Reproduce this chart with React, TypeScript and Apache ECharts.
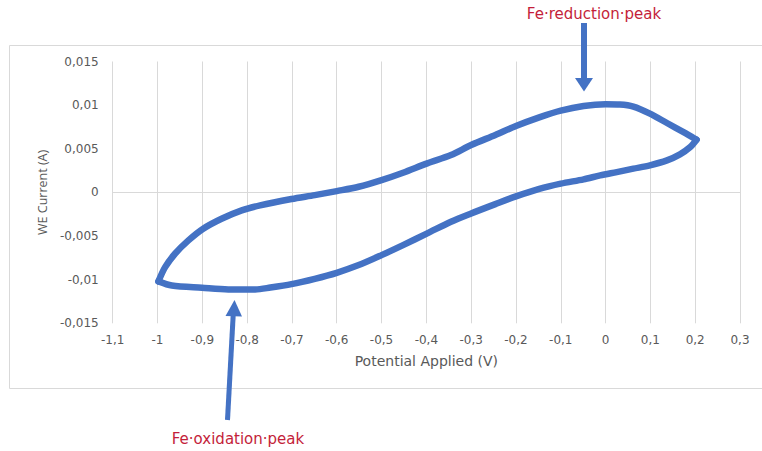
import React, { useEffect, useRef } from "react";
import * as echarts from "echarts";

// Cyclic voltammogram: anodic sweep (-1.0 V -> 0.2 V) and cathodic return (0.2 V -> -1.0 V)
const forwardPotential = [-0.998, -0.983, -0.961, -0.931, -0.898, -0.857, -0.812, -0.771, -0.701, -0.649, -0.6, -0.551, -0.5, -0.452, -0.398, -0.345, -0.3, -0.246, -0.2, -0.148, -0.1, -0.049, 0.0, 0.032, 0.062, 0.099, 0.137, 0.174, 0.203];
const forwardCurrent = [-0.0102, -0.00857, -0.00703, -0.0055, -0.00416, -0.00302, -0.00206, -0.00149, -0.00076, -0.00031, 0.00015, 0.00065, 0.00141, 0.00226, 0.00333, 0.00428, 0.00543, 0.00658, 0.00761, 0.0086, 0.00937, 0.0099, 0.0101, 0.01007, 0.00984, 0.00903, 0.00795, 0.0069, 0.00604];
const reversePotential = [0.203, 0.189, 0.166, 0.137, 0.099, 0.062, 0.025, -0.012, -0.049, -0.1, -0.148, -0.2, -0.246, -0.3, -0.345, -0.398, -0.452, -0.5, -0.551, -0.6, -0.649, -0.701, -0.748, -0.782, -0.842, -0.901, -0.968, -0.998];
const reverseCurrent = [0.00604, 0.0052, 0.00436, 0.00367, 0.0031, 0.00272, 0.00233, 0.00195, 0.0015, 0.001, 0.0004, -0.00046, -0.00134, -0.00241, -0.00336, -0.0047, -0.00604, -0.00719, -0.00833, -0.00921, -0.0099, -0.01051, -0.0109, -0.01112, -0.01112, -0.01093, -0.01067, -0.0102];

// Axis settings
const potentialMin = -1.1;
const potentialMax = 0.3;
const potentialStep = 0.1;
const currentMin = -0.015;
const currentMax = 0.015;
const currentStep = 0.005;

const xTitle = "Potential Applied (V)";
const yTitle = "WE Current (A)";
const reductionNote = "Fe·reduction·peak";
const oxidationNote = "Fe·oxidation·peak";

const WIDE_FONT = "'DejaVu Sans', 'Open Sans', sans-serif";
const FONT = "'Open Sans', 'Liberation Sans', sans-serif";
const GRID_COLOR = "#d9d9d9";
const TEXT_COLOR = "#595959";
const LINE_COLOR = "#4472C4";
const NOTE_COLOR = "#C41E3A";

const commaNumber = (v: number, digits: number) =>
  String(+v.toFixed(digits)).replace(".", ",");

const zip = (xs: number[], ys: number[]) => xs.map((x, i) => [x, ys[i]]);

const sweepStyle = {
  type: "line",
  xAxisIndex: 0,
  showSymbol: false,
  smooth: 0.3,
  lineStyle: { color: LINE_COLOR, width: 6.5, cap: "round", join: "round" },
  itemStyle: { color: LINE_COLOR },
  silent: true,
  z: 5,
};

export default function App() {
  const ref = useRef<HTMLDivElement>(null);

  useEffect(() => {
    if (!ref.current) return;
    const chart = echarts.init(ref.current, undefined, { renderer: "svg" });

    chart.setOption({
      animation: false,
      backgroundColor: "#ffffff",
      textStyle: { fontFamily: FONT },
      grid: { left: 112.7, right: 22, top: 61.5, bottom: 127.7, containLabel: false },
      xAxis: [
        {
          type: "value",
          min: potentialMin,
          max: potentialMax,
          interval: potentialStep,
          axisLine: { show: false, onZero: false },
          axisTick: { show: false },
          splitLine: { show: true, lineStyle: { color: GRID_COLOR, width: 1 } },
          axisLabel: {
            color: TEXT_COLOR,
            fontSize: 12,
            fontFamily: WIDE_FONT,
            margin: 11,
            formatter: (v: number) => commaNumber(v, 1),
          },
          name: xTitle,
          nameLocation: "middle",
          nameGap: 31,
          nameTextStyle: { color: TEXT_COLOR, fontSize: 14, fontFamily: WIDE_FONT },
        },
        {
          type: "value",
          min: potentialMin,
          max: potentialMax,
          interval: potentialStep,
          position: "bottom",
          axisLine: { show: true, onZero: true, lineStyle: { color: GRID_COLOR, width: 1 } },
          axisTick: { show: false },
          axisLabel: { show: false },
          splitLine: { show: false },
        },
      ],
      yAxis: {
        type: "value",
        min: currentMin,
        max: currentMax,
        interval: currentStep,
        axisLine: { show: false },
        axisTick: { show: false },
        splitLine: { show: false },
        axisLabel: {
          color: TEXT_COLOR,
          fontSize: 12,
          fontFamily: WIDE_FONT,
          margin: 14,
          formatter: (v: number) => commaNumber(v, 3),
        },
        name: yTitle,
        nameLocation: "middle",
        nameGap: 62,
        nameRotate: 90,
        nameTextStyle: { color: TEXT_COLOR, fontSize: 12.5, fontFamily: FONT },
      },
      series: [
        { ...sweepStyle, name: "anodic", data: zip(forwardPotential, forwardCurrent) },
        { ...sweepStyle, name: "cathodic", data: zip(reversePotential, reverseCurrent) },
      ],
      graphic: [
        {
          type: "rect",
          shape: { x: 9.5, y: 45.5, width: 760, height: 343 },
          style: { fill: "none", stroke: GRID_COLOR, lineWidth: 1 },
          silent: true,
          z: 0,
        },
        {
          type: "text",
          x: 594,
          y: 14,
          style: {
            text: reductionNote,
            fill: NOTE_COLOR,
            font: `15px ${WIDE_FONT}`,
            textAlign: "center",
            textVerticalAlign: "middle",
          },
        },
        {
          type: "line",
          shape: { x1: 584, y1: 23, x2: 584, y2: 80 },
          style: { stroke: LINE_COLOR, lineWidth: 6 },
          z: 10,
        },
        {
          type: "polygon",
          shape: { points: [[575, 78], [593, 78], [584, 91.5]] },
          style: { fill: LINE_COLOR },
          z: 10,
        },
        {
          type: "text",
          x: 238,
          y: 439,
          style: {
            text: oxidationNote,
            fill: NOTE_COLOR,
            font: `15px ${WIDE_FONT}`,
            textAlign: "center",
            textVerticalAlign: "middle",
          },
        },
        {
          type: "line",
          shape: { x1: 227.5, y1: 420, x2: 233.3, y2: 313 },
          style: { stroke: LINE_COLOR, lineWidth: 5 },
          z: 10,
        },
        {
          type: "polygon",
          shape: { points: [[225.5, 316], [242, 316.5], [234.5, 300]] },
          style: { fill: LINE_COLOR },
          z: 10,
        },
      ],
    });

    return () => chart.dispose();
  }, []);

  return (
    <div
      ref={ref}
      style={{ position: "fixed", left: 0, top: 0, width: 762, height: 451, background: "#fff" }}
    />
  );
}
